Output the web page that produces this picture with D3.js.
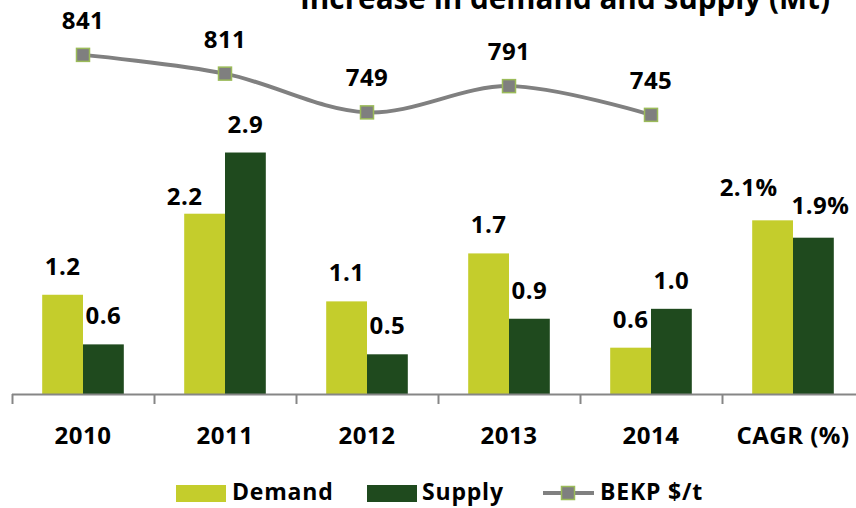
<!DOCTYPE html>
<html>
<head>
<meta charset="utf-8">
<script src="https://cdn.jsdelivr.net/npm/d3@7"></script>
<style>
  body { margin: 0; background: #fff; }
  text { font-family: "Open Sans", "Liberation Sans", sans-serif; font-weight: bold; fill: #000; }
</style>
</head>
<body>
<div id="chart"></div>
<script>
var svgWidth = 856;
var svgHeight = 508;

// Data
var categories = ["2010", "2011", "2012", "2013", "2014", "CAGR (%)"];
var demand = [1.2, 2.18, 1.12, 1.7, 0.56, 2.1];
var supply = [0.6, 2.92, 0.48, 0.91, 1.03, 1.89];
var priceYears = ["2010", "2011", "2012", "2013", "2014"];
var bekp = [841, 811, 749, 791, 745];
var seriesNames = ["Demand", "Supply"];
var seriesColors = ["#c4cd2c", "#1f4a1e"];

var svg = d3.select("#chart")
  .append("svg")
  .attr("width", svgWidth)
  .attr("height", svgHeight);

// title, mostly cut off at the top (as in the original)
svg.append("text")
  .attr("x", 565)
  .attr("y", 9)
  .attr("text-anchor", "middle")
  .attr("textLength", 530)
  .attr("lengthAdjust", "spacingAndGlyphs")
  .style("font-size", "31px")
  .text("Increase in demand and supply (Mt)");

// scales
var baseY = 394;
var xScale = d3.scaleBand()
  .domain(categories)
  .range([12, 864]);

var xSub = d3.scaleBand()
  .domain(seriesNames)
  .range([0, xScale.bandwidth()])
  .paddingOuter(0.74);

var yBar = d3.scaleLinear()
  .domain([0, 4.5])
  .range([baseY, baseY - 4.5 * 82.7]);

var yLine = d3.scaleLinear()
  .domain([500, 900])
  .range([268, 18]);

// bars
var rows = categories.map(function(c, i) {
  return { cat: c, values: [demand[i], supply[i]] };
});

var groups = svg.selectAll(".group")
  .data(rows)
  .enter()
  .append("g")
  .attr("class", "group")
  .attr("transform", d => `translate(${xScale(d.cat)},0)`);

groups.selectAll("rect")
  .data(d => d.values.map((v, j) => ({ cat: d.cat, name: seriesNames[j], value: v, color: seriesColors[j] })))
  .enter()
  .append("rect")
  .attr("x", d => xSub(d.name))
  .attr("y", d => yBar(d.value))
  .attr("width", xSub.bandwidth())
  .attr("height", d => baseY - yBar(d.value))
  .attr("fill", d => d.color);

// a few labels were dragged by hand in the original
var nudge = {
  "Demand|2011": [-20, 11],
  "Demand|CAGR (%)": [-24, -4],
  "Supply|CAGR (%)": [7, -4]
};
var fmt = d3.format(".1f");

groups.selectAll(".val")
  .data(d => d.values.map((v, j) => ({ cat: d.cat, name: seriesNames[j], value: v })))
  .enter()
  .append("text")
  .attr("class", "val")
  .attr("text-anchor", "middle")
  .style("font-size", "24px")
  .style("letter-spacing", "0.5px")
  .attr("x", function(d) {
    var n = nudge[d.name + "|" + d.cat] || [0, 0];
    return xSub(d.name) + xSub.bandwidth() / 2 + n[0];
  })
  .attr("y", function(d) {
    var n = nudge[d.name + "|" + d.cat] || [0, 0];
    return yBar(d.value) - 20 + n[1];
  })
  .text(d => fmt(d.value) + (d.cat === "CAGR (%)" ? "%" : ""));

// x axis: line, ticks at category edges, labels
svg.append("line")
  .attr("x1", 12).attr("x2", 864)
  .attr("y1", baseY + 0.5).attr("y2", baseY + 0.5)
  .attr("stroke", "#868686")
  .attr("stroke-width", 2);

svg.selectAll(".tick-edge")
  .data(categories)
  .enter()
  .append("line")
  .attr("class", "tick-edge")
  .attr("x1", d => Math.round(xScale(d)) + 0.5)
  .attr("x2", d => Math.round(xScale(d)) + 0.5)
  .attr("y1", baseY)
  .attr("y2", baseY + 10)
  .attr("stroke", "#868686")
  .attr("stroke-width", 2);

var xAxis = svg.append("g")
  .attr("transform", `translate(0, ${baseY})`)
  .call(d3.axisBottom(xScale).tickSize(0));
xAxis.select(".domain").remove();
xAxis.selectAll("text")
  .attr("y", 50)
  .attr("dy", 0)
  .style("font-size", "24px")
  .style("letter-spacing", "0.5px")
  .style("font-family", null)
  .attr("fill", "#000");

// BEKP price line
var cx = d => xScale(d) + xScale.bandwidth() / 2;
var line = d3.line()
  .x((d, i) => cx(priceYears[i]))
  .y(d => yLine(d))
  .curve(d3.curveCatmullRom.alpha(0.5));

svg.append("path")
  .datum(bekp)
  .attr("d", line)
  .attr("fill", "none")
  .attr("stroke", "#808080")
  .attr("stroke-width", 4);

svg.selectAll(".marker")
  .data(bekp)
  .enter()
  .append("rect")
  .attr("class", "marker")
  .attr("x", (d, i) => cx(priceYears[i]) - 6.5)
  .attr("y", d => yLine(d) - 6.5)
  .attr("width", 13)
  .attr("height", 13)
  .attr("fill", "#7f7f7f")
  .attr("stroke", "#9bbb59")
  .attr("stroke-width", 1.5);

svg.selectAll(".pval")
  .data(bekp)
  .enter()
  .append("text")
  .attr("class", "pval")
  .attr("text-anchor", "middle")
  .style("font-size", "24px")
  .style("letter-spacing", "0.5px")
  .attr("x", (d, i) => cx(priceYears[i]))
  .attr("y", d => yLine(d) - 26)
  .text(d => d);

// legend
var legend = svg.append("g");
var legendItems = [
  { name: "Demand", sx: 176, tx: 232 },
  { name: "Supply", sx: 367, tx: 422 }
];
legendItems.forEach(function(item, i) {
  legend.append("rect")
    .attr("x", item.sx)
    .attr("y", 485)
    .attr("width", 50)
    .attr("height", 17)
    .attr("fill", seriesColors[i]);
  legend.append("text")
    .attr("x", item.tx)
    .attr("y", 500)
    .style("font-size", "23px")
    .style("letter-spacing", "0.8px")
    .text(item.name);
});
legend.append("line")
  .attr("x1", 543).attr("x2", 594)
  .attr("y1", 493).attr("y2", 493)
  .attr("stroke", "#808080")
  .attr("stroke-width", 4);
legend.append("rect")
  .attr("x", 561.5).attr("y", 486.5)
  .attr("width", 13).attr("height", 13)
  .attr("fill", "#7f7f7f")
  .attr("stroke", "#9bbb59")
  .attr("stroke-width", 1.5);
legend.append("text")
  .attr("x", 600)
  .attr("y", 500)
  .style("font-size", "23px")
  .style("letter-spacing", "0.8px")
  .text("BEKP $/t");
</script>
</body>
</html>
